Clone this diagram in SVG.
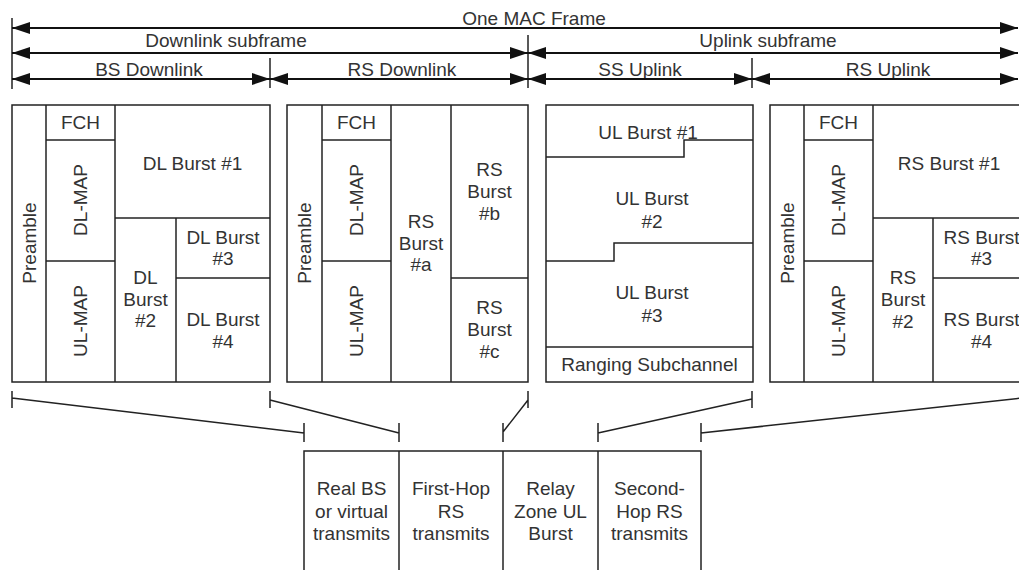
<svg xmlns="http://www.w3.org/2000/svg" width="1019" height="570" viewBox="0 0 1019 570">
<defs>
<marker id="ah" viewBox="0 0 18 12" refX="18" refY="6" markerWidth="18" markerHeight="12" markerUnits="userSpaceOnUse" orient="auto-start-reverse">
<path d="M0,0 L18,6 L0,12 z" fill="#111"/>
</marker>
<style>
.t{font-family:"Liberation Sans",Arial,sans-serif;font-size:19px;fill:#333;text-anchor:middle}
.c{dominant-baseline:central}
.b{fill:#fff;stroke:#222;stroke-width:1.5}
.l{stroke:#222;stroke-width:1.5;fill:none}
.a{stroke:#111;stroke-width:1.8;fill:none;marker-start:url(#ah);marker-end:url(#ah)}
</style>
</defs>
<rect width="1019" height="570" fill="#fff"/>

<g id="timeline">
<text class="t" x="534" y="25">One MAC Frame</text>
<text class="t" x="226" y="47">Downlink subframe</text>
<text class="t" x="768" y="47">Uplink subframe</text>
<text class="t" x="149" y="76">BS Downlink</text>
<text class="t" x="402" y="76">RS Downlink</text>
<text class="t" x="640" y="76">SS Uplink</text>
<text class="t" x="888" y="76">RS Uplink</text>
</g>

<g id="connectors">
<line class="l" x1="12" y1="18" x2="12" y2="89"/>
<line class="l" x1="270" y1="58" x2="270" y2="88"/>
<line class="l" x1="528" y1="35" x2="528" y2="88"/>
<line class="l" x1="752" y1="58" x2="752" y2="88"/>
<line class="a" x1="12" y1="28" x2="1018" y2="28"/>
<line class="a" x1="12" y1="53" x2="528" y2="53"/>
<line class="a" x1="528" y1="53" x2="1018" y2="53"/>
<line class="a" x1="12" y1="79" x2="270" y2="79"/>
<line class="a" x1="270" y1="79" x2="528" y2="79"/>
<line class="a" x1="528" y1="79" x2="752" y2="79"/>
<line class="a" x1="752" y1="79" x2="1018" y2="79"/>

<path class="l" d="M12,391 V408 M12,398 L304,433 M304,423 V442"/>
<path class="l" d="M270,391 V408 M270,400 L399,433 M399,423 V442"/>
<path class="l" d="M528,391 V408 M528,400 L503,432 M503,423 V442"/>
<path class="l" d="M752,391 V408 M752,399 L598,433 M598,423 V442"/>
<path class="l" d="M1031,397 L701,433 M701,423 V442"/>
</g>

<g id="bs-downlink">
<rect class="b" x="12" y="105" width="258" height="277"/>
<line class="l" x1="46" y1="105" x2="46" y2="382"/>
<line class="l" x1="115" y1="105" x2="115" y2="382"/>
<line class="l" x1="46" y1="140" x2="115" y2="140"/>
<line class="l" x1="46" y1="261" x2="115" y2="261"/>
<line class="l" x1="115" y1="218" x2="270" y2="218"/>
<line class="l" x1="176" y1="218" x2="176" y2="382"/>
<line class="l" x1="176" y1="278" x2="270" y2="278"/>
<text class="t c" transform="translate(29,243) rotate(-90)">Preamble</text>
<text class="t c" x="80.5" y="122">FCH</text>
<text class="t c" transform="translate(80.5,200) rotate(-90)">DL-MAP</text>
<text class="t c" transform="translate(80.5,321) rotate(-90)">UL-MAP</text>
<text class="t c" x="192.5" y="163">DL Burst #1</text>
<text class="t c" x="145.5" y="277">DL</text>
<text class="t c" x="145.5" y="299">Burst</text>
<text class="t c" x="145.5" y="320">#2</text>
<text class="t c" x="223" y="237">DL Burst</text>
<text class="t c" x="223" y="258">#3</text>
<text class="t c" x="223" y="319">DL Burst</text>
<text class="t c" x="223" y="341">#4</text>
</g>

<g id="rs-downlink">
<rect class="b" x="287" y="105" width="241" height="277"/>
<line class="l" x1="322" y1="105" x2="322" y2="382"/>
<line class="l" x1="391" y1="105" x2="391" y2="382"/>
<line class="l" x1="451" y1="105" x2="451" y2="382"/>
<line class="l" x1="322" y1="140" x2="391" y2="140"/>
<line class="l" x1="322" y1="261" x2="391" y2="261"/>
<line class="l" x1="451" y1="278" x2="528" y2="278"/>
<text class="t c" transform="translate(304.5,243) rotate(-90)">Preamble</text>
<text class="t c" x="356.5" y="122">FCH</text>
<text class="t c" transform="translate(356.5,200) rotate(-90)">DL-MAP</text>
<text class="t c" transform="translate(356.5,321) rotate(-90)">UL-MAP</text>
<text class="t c" x="421" y="221">RS</text>
<text class="t c" x="421" y="243">Burst</text>
<text class="t c" x="421" y="264">#a</text>
<text class="t c" x="489.5" y="169">RS</text>
<text class="t c" x="489.5" y="191">Burst</text>
<text class="t c" x="489.5" y="213">#b</text>
<text class="t c" x="489.5" y="307">RS</text>
<text class="t c" x="489.5" y="329">Burst</text>
<text class="t c" x="489.5" y="351">#c</text>
</g>

<g id="ss-uplink">
<rect class="b" x="546" y="105" width="207" height="277"/>
<path class="l" d="M546,157 H684 V140 H753"/>
<path class="l" d="M546,261 H614 V243 H753"/>
<line class="l" x1="546" y1="347" x2="753" y2="347"/>
<text class="t c" x="648" y="132">UL Burst #1</text>
<text class="t c" x="652" y="198">UL Burst</text>
<text class="t c" x="652" y="221">#2</text>
<text class="t c" x="652" y="292">UL Burst</text>
<text class="t c" x="652" y="315">#3</text>
<text class="t c" x="649.5" y="364">Ranging Subchannel</text>
</g>

<g id="rs-uplink">
<rect class="b" x="770" y="105" width="260" height="277"/>
<line class="l" x1="804" y1="105" x2="804" y2="382"/>
<line class="l" x1="873" y1="105" x2="873" y2="382"/>
<line class="l" x1="804" y1="140" x2="873" y2="140"/>
<line class="l" x1="804" y1="261" x2="873" y2="261"/>
<line class="l" x1="873" y1="218" x2="1030" y2="218"/>
<line class="l" x1="933" y1="218" x2="933" y2="382"/>
<line class="l" x1="933" y1="278" x2="1030" y2="278"/>
<text class="t c" transform="translate(787,243) rotate(-90)">Preamble</text>
<text class="t c" x="838.5" y="122">FCH</text>
<text class="t c" transform="translate(838.5,200) rotate(-90)">DL-MAP</text>
<text class="t c" transform="translate(838.5,321) rotate(-90)">UL-MAP</text>
<text class="t c" x="949" y="163">RS Burst #1</text>
<text class="t c" x="903" y="277">RS</text>
<text class="t c" x="903" y="299">Burst</text>
<text class="t c" x="903" y="321">#2</text>
<text class="t c" x="981.5" y="237">RS Burst</text>
<text class="t c" x="981.5" y="258">#3</text>
<text class="t c" x="981.5" y="319">RS Burst</text>
<text class="t c" x="981.5" y="341">#4</text>
</g>

<g id="legend-table">
<rect class="b" x="304" y="451" width="397" height="130"/>
<line class="l" x1="399" y1="451" x2="399" y2="575"/>
<line class="l" x1="503" y1="451" x2="503" y2="575"/>
<line class="l" x1="598" y1="451" x2="598" y2="575"/>
<text class="t c" x="351.5" y="488">Real BS</text>
<text class="t c" x="351.5" y="511">or virtual</text>
<text class="t c" x="351.5" y="533">transmits</text>
<text class="t c" x="451" y="488">First-Hop</text>
<text class="t c" x="451" y="511">RS</text>
<text class="t c" x="451" y="533">transmits</text>
<text class="t c" x="550.5" y="488">Relay</text>
<text class="t c" x="550.5" y="511">Zone UL</text>
<text class="t c" x="550.5" y="533">Burst</text>
<text class="t c" x="649.5" y="488">Second-</text>
<text class="t c" x="649.5" y="511">Hop RS</text>
<text class="t c" x="649.5" y="533">transmits</text>
</g>
</svg>
